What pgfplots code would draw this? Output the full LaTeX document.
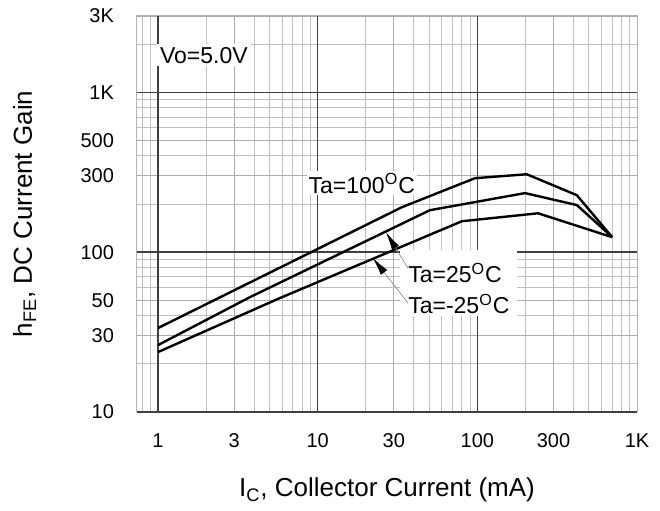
\documentclass[border=0pt]{standalone}
\usepackage{fontspec}
\setmainfont{Liberation Sans}
\usepackage{pgfplots}
\pgfplotsset{compat=1.18}
\usetikzlibrary{arrows.meta}

\begin{document}
\begin{tikzpicture}
\begin{axis}[
  scale only axis,
  width=250pt, height=198pt,
  xmode=log, ymode=log,
  xmin=0.739, xmax=1000,
  ymin=10, ymax=3000,
  /pgf/number format/assume math mode=true,
  xtick={1,3,10,30,100,300,1000},
  xticklabels={1,3,10,30,100,300,1K},
  ytick={10,30,50,100,300,500,1000,3000},
  yticklabels={10,30,50,100,300,500,1K,3K},
  minor xtick={0.8,0.9,2,4,5,6,7,8,9,20,40,50,60,70,80,90,200,400,500,600,700,800,900},
  minor ytick={20,40,60,70,80,90,200,400,600,700,800,900,2000},
  extra x ticks={1,10,100},
  extra x tick labels={},
  extra y ticks={10,100,1000},
  extra y tick labels={},
  extra tick style={major grid style={black!75, line width=0.7pt}},
  grid=both,
  major grid style={gray!65, line width=0.45pt},
  minor grid style={gray!50, line width=0.45pt},
  major tick length=0pt, minor tick length=0pt,
  axis line style={gray!60, line width=0.5pt},
  tick label style={font=\fontsize{10}{12}\selectfont},
  xticklabel style={anchor=base, yshift=-18pt},
  yticklabel style={anchor=east, xshift=-8pt},
  every axis x label/.style={at={(axis description cs:0.5,-0.2146)}, anchor=base},
  every axis y label/.style={at={(axis description cs:-0.21,0.5)}, rotate=90, anchor=base},
  label style={font=\fontsize{13}{15}\selectfont},
  xlabel={I\textsubscript{C}, Collector Current (mA)},
  ylabel={h\textsubscript{FE}, DC Current Gain},
]
% white patch behind the two lower labels
\fill[white] (axis cs:32.7,39.8) rectangle (axis cs:177,103);

% Ta = 100 C
\addplot[black, line width=1.2pt] coordinates {
  (1,33.5) (33.7,191) (96.6,290) (204,307) (420,227) (700,124)
};
% Ta = 25 C
\addplot[black, line width=1.2pt] coordinates {
  (1,26.2) (3.77,52.3) (50.5,183) (199,234) (420,197) (700,124)
};
% Ta = -25 C
\addplot[black, line width=1.2pt] coordinates {
  (1,23.7) (5.8,51.6) (80,156) (240,175) (700,124)
};

\node[fill=white, inner sep=1.5pt, font=\fontsize{11.5}{13}\selectfont]
  at (axis cs:1.94,1703) {Vo=5.0V};
\node[fill=white, inner sep=1pt, font=\fontsize{11.5}{13}\selectfont]
  at (axis cs:18.9,270) {Ta=100\textsuperscript{O}C};
\node[anchor=west, inner sep=1pt, font=\fontsize{11.5}{13}\selectfont]
  at (axis cs:35.7,74) {Ta=25\textsuperscript{O}C};
\node[anchor=west, inner sep=1pt, font=\fontsize{11.5}{13}\selectfont]
  at (axis cs:35.7,47.3) {Ta=-25\textsuperscript{O}C};

\draw[gray, line width=0.3pt, -{Latex[length=9pt, width=4pt, color=black]}]
  (axis cs:36.8,79.4) -- (axis cs:26.8,133);
\draw[gray, line width=0.3pt, -{Latex[length=9pt, width=4pt, color=black]}]
  (axis cs:36.8,48) -- (axis cs:22.2,91.7);

\coordinate (bl) at (rel axis cs:-0.274,-0.2475);
\coordinate (tr) at (rel axis cs:1.046,1.0404);
\end{axis}
\pgfresetboundingbox
\path[use as bounding box] (bl) rectangle (tr);
\end{tikzpicture}
\end{document}
